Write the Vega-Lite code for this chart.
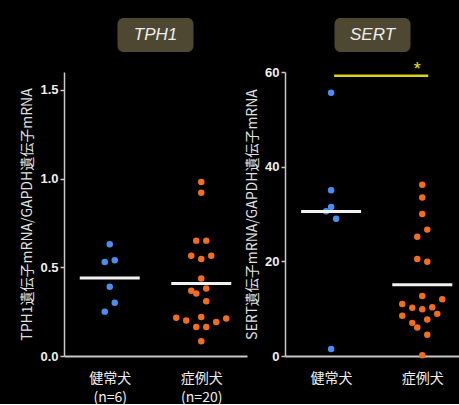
{
  "$schema": "https://vega.github.io/schema/vega-lite/v6.json",
  "background": "black",
  "autosize": {"type": "pad"},
  "padding": {"left": 20, "top": 18, "right": 0, "bottom": 0},
  "spacing": -2,
  "bounds": "full",
  "hconcat": [
    {
      "spacing": 20,
      "center": true,
      "bounds": "flush",
      "vconcat": [
        {
          "width": 76, "height": 34,
          "view": {"fill": "#4e4832", "cornerRadius": 6, "stroke": null},
          "data": {"values": [{"gene": "TPH1"}]},
          "mark": {"type": "text", "fontStyle": "italic", "fontSize": 17, "color": "#eeeeee", "font": "Liberation Sans"},
          "encoding": {"text": {"field": "gene"}}
        },
        {
          "width": 183, "height": 284,
          "data": {"values": [
            {"group": "健常犬", "value": 0.63, "slot": 0},
            {"group": "健常犬", "value": 0.53, "slot": -1},
            {"group": "健常犬", "value": 0.54, "slot": 1},
            {"group": "健常犬", "value": 0.39, "slot": 0},
            {"group": "健常犬", "value": 0.30, "slot": 1},
            {"group": "健常犬", "value": 0.25, "slot": -1},
            {"group": "症例犬", "value": 0.98, "slot": 0},
            {"group": "症例犬", "value": 0.92, "slot": 0},
            {"group": "症例犬", "value": 0.65, "slot": -1},
            {"group": "症例犬", "value": 0.65, "slot": 1},
            {"group": "症例犬", "value": 0.565, "slot": -2},
            {"group": "症例犬", "value": 0.547, "slot": 0},
            {"group": "症例犬", "value": 0.565, "slot": 2},
            {"group": "症例犬", "value": 0.436, "slot": 0},
            {"group": "症例犬", "value": 0.368, "slot": -2},
            {"group": "症例犬", "value": 0.352, "slot": -1},
            {"group": "症例犬", "value": 0.38, "slot": 1},
            {"group": "症例犬", "value": 0.308, "slot": 1},
            {"group": "症例犬", "value": 0.216, "slot": -5},
            {"group": "症例犬", "value": 0.20, "slot": -3},
            {"group": "症例犬", "value": 0.22, "slot": 0},
            {"group": "症例犬", "value": 0.164, "slot": -1},
            {"group": "症例犬", "value": 0.164, "slot": 1},
            {"group": "症例犬", "value": 0.192, "slot": 3},
            {"group": "症例犬", "value": 0.211, "slot": 5},
            {"group": "症例犬", "value": 0.083, "slot": 0}
          ]},
          "layer": [
            {
              "mark": {"type": "circle", "size": 42, "opacity": 1},
              "encoding": {
                "x": {"field": "group", "type": "nominal", "scale": {"type": "point", "domain": ["健常犬", "症例犬"], "padding": 0.5},
                      "axis": {"title": null, "labelExpr": "datum.value == '健常犬' ? ['健常犬', '(n=6)'] : ['症例犬', '(n=20)']"}},
                "xOffset": {"field": "slot", "type": "quantitative", "scale": {"domain": [-5, 5], "range": [-25, 25]}},
                "y": {"field": "value", "type": "quantitative", "scale": {"domain": [0, 1.5]},
                      "axis": {"values": [0, 0.5, 1, 1.5], "format": ".1f", "title": "TPH1遺伝子mRNA/GAPDH遺伝子mRNA"}},
                "color": {"field": "group", "type": "nominal", "scale": {"domain": ["健常犬", "症例犬"], "range": ["#4b8ef0", "#f26d1d"]}, "legend": null}
              }
            },
            {
              "mark": {"type": "tick", "color": "#f2f2f2", "size": 60, "thickness": 3},
              "encoding": {
                "x": {"field": "group", "type": "nominal"},
                "y": {"aggregate": "mean", "field": "value", "type": "quantitative"}
              }
            }
          ]
        }
      ]
    },
    {
      "spacing": 20,
      "center": true,
      "bounds": "flush",
      "vconcat": [
        {
          "width": 76, "height": 34,
          "view": {"fill": "#4e4832", "cornerRadius": 6, "stroke": null},
          "data": {"values": [{"gene": "SERT"}]},
          "mark": {"type": "text", "fontStyle": "italic", "fontSize": 17, "color": "#eeeeee", "font": "Liberation Sans"},
          "encoding": {"text": {"field": "gene"}}
        },
        {
          "width": 175, "height": 284,
          "data": {"values": [
            {"group": "健常犬", "value": 55.6, "slot": 0},
            {"group": "健常犬", "value": 35.0, "slot": 0},
            {"group": "健常犬", "value": 31.5, "slot": 0},
            {"group": "健常犬", "value": 30.6, "slot": -1},
            {"group": "健常犬", "value": 29.0, "slot": 1},
            {"group": "健常犬", "value": 1.5, "slot": 0},
            {"group": "症例犬", "value": 36.2, "slot": 0},
            {"group": "症例犬", "value": 33.5, "slot": 0},
            {"group": "症例犬", "value": 30.0, "slot": 0},
            {"group": "症例犬", "value": 26.7, "slot": 1},
            {"group": "症例犬", "value": 25.2, "slot": -1},
            {"group": "症例犬", "value": 20.5, "slot": -1},
            {"group": "症例犬", "value": 19.9, "slot": 1},
            {"group": "症例犬", "value": 12.7, "slot": 0},
            {"group": "症例犬", "value": 11.0, "slot": -4},
            {"group": "症例犬", "value": 12.0, "slot": 4},
            {"group": "症例犬", "value": 10.2, "slot": -2},
            {"group": "症例犬", "value": 9.9, "slot": 0},
            {"group": "症例犬", "value": 10.3, "slot": 2},
            {"group": "症例犬", "value": 8.5, "slot": -4},
            {"group": "症例犬", "value": 8.9, "slot": 3},
            {"group": "症例犬", "value": 7.0, "slot": -2},
            {"group": "症例犬", "value": 7.7, "slot": 1},
            {"group": "症例犬", "value": 6.0, "slot": -1},
            {"group": "症例犬", "value": 4.5, "slot": 1},
            {"group": "症例犬", "value": 0.15, "slot": 0}
          ]},
          "layer": [
            {
              "mark": {"type": "circle", "size": 42, "opacity": 1},
              "encoding": {
                "x": {"field": "group", "type": "nominal", "scale": {"type": "point", "domain": ["健常犬", "症例犬"], "padding": 0.46, "align": 0.55},
                      "axis": {"title": null}},
                "xOffset": {"field": "slot", "type": "quantitative", "scale": {"domain": [-5, 5], "range": [-25, 25]}},
                "y": {"field": "value", "type": "quantitative", "scale": {"domain": [0, 60]},
                      "axis": {"values": [0, 20, 40, 60], "format": "d", "title": "SERT遺伝子mRNA/GAPDH遺伝子mRNA"}},
                "color": {"field": "group", "type": "nominal", "scale": {"domain": ["健常犬", "症例犬"], "range": ["#4b8ef0", "#f26d1d"]}, "legend": null}
              }
            },
            {
              "mark": {"type": "tick", "color": "#f2f2f2", "size": 60, "thickness": 3},
              "encoding": {
                "x": {"field": "group", "type": "nominal"},
                "y": {"aggregate": "mean", "field": "value", "type": "quantitative"}
              }
            },
            {
              "data": {"values": [{"from": "健常犬", "to": "症例犬", "level": 59.2}]},
              "mark": {"type": "rule", "color": "#d6d41e", "strokeWidth": 2.5, "xOffset": 3, "x2Offset": 6},
              "encoding": {
                "x": {"field": "from", "type": "nominal"},
                "x2": {"field": "to"},
                "y": {"field": "level", "type": "quantitative"}
              }
            },
            {
              "data": {"values": [{"at": "症例犬", "level": 61.5, "mark": "*"}]},
              "mark": {"type": "text", "color": "#e8e61e", "fontSize": 18, "dx": -5, "dy": 5, "baseline": "middle", "font": "Liberation Sans"},
              "encoding": {
                "x": {"field": "at", "type": "nominal"},
                "y": {"field": "level", "type": "quantitative"},
                "text": {"field": "mark"}
              }
            }
          ]
        }
      ]
    }
  ],
  "config": {
    "view": {"stroke": null},
    "font": "Noto Sans CJK JP",
    "axis": {"grid": false, "domainColor": "#c8c8c8", "tickColor": "#c8c8c8", "labelColor": "#eeeeee", "titleColor": "#e0e0e0"},
    "axisY": {"labelFont": "Liberation Sans", "labelFontWeight": "bold", "labelFontSize": 13, "tickSize": 4, "domainWidth": 1.5, "tickWidth": 1.5, "titleFontSize": 14, "titleFontWeight": "normal", "titlePadding": 5, "labelPadding": 2},
    "axisX": {"ticks": false, "domainWidth": 2, "labelFontSize": 14, "labelPadding": 15, "labelAngle": 0, "labelLineHeight": 19}
  }
}
